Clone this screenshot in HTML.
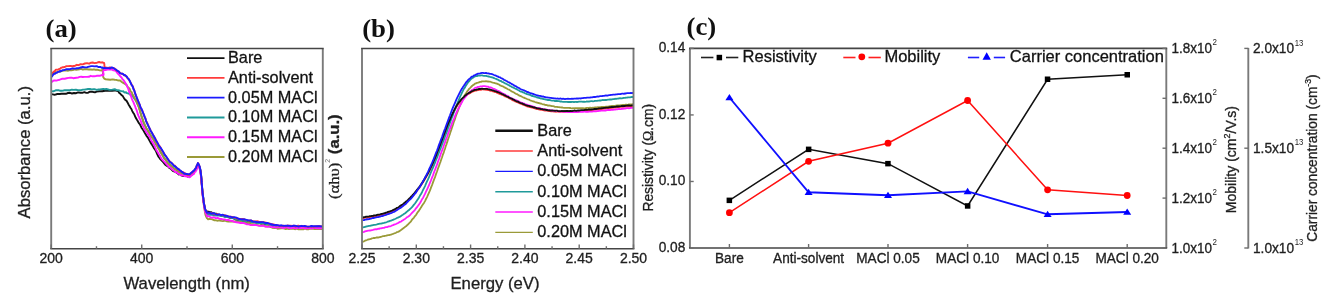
<!DOCTYPE html>
<html><head><meta charset="utf-8"><style>
html,body{margin:0;padding:0;background:#fff;width:1331px;height:304px;overflow:hidden}
svg{display:block;font-family:"Liberation Sans",sans-serif;filter:blur(0.35px)}
text{stroke:#1a1a1a;stroke-width:0.3px;paint-order:stroke}
</style></head><body>
<svg width="1331" height="304" viewBox="0 0 1331 304">
<rect width="1331" height="304" fill="#fff"/>
<defs><clipPath id="ca"><rect x="51" y="48" width="271" height="200"/></clipPath><clipPath id="cb"><rect x="362" y="48" width="272" height="200"/></clipPath></defs>
<g clip-path="url(#ca)"><path d="M51.5 94.1 L54.0 94.7 L55.7 94.5 L57.5 93.9 L59.6 94.0 L61.6 93.8 L63.8 93.8 L65.9 93.8 L68.0 93.0 L70.0 92.8 L72.0 93.5 L74.0 93.0 L76.1 93.2 L78.1 92.4 L80.2 92.7 L82.3 92.8 L84.3 92.2 L86.3 92.9 L88.1 92.7 L90.0 91.7 L91.7 91.6 L93.4 92.0 L95.0 92.3 L96.6 91.6 L99.5 91.3 L102.3 91.3 L105.0 90.7 L107.5 90.8 L110.0 90.9 L112.2 90.8 L114.2 90.6 L115.8 90.6 L116.9 90.7 L117.5 91.1 L117.9 91.2 L118.4 91.3 L119.1 92.8 L120.2 93.6 L121.4 95.0 L122.8 96.1 L124.1 98.4 L125.3 99.9 L126.4 100.6 L127.5 102.4 L128.5 104.4 L129.5 106.0 L130.5 107.8 L131.4 109.0 L132.3 111.1 L133.2 112.7 L134.1 114.0 L135.0 116.1 L135.9 118.1 L136.8 119.6 L137.7 121.0 L138.7 122.9 L140.0 124.5 L140.8 126.1 L141.6 128.0 L142.6 129.2 L143.5 130.5 L144.6 132.5 L145.6 134.3 L146.5 135.8 L147.5 137.1 L148.4 138.6 L149.2 140.0 L150.6 142.6 L151.8 144.4 L152.8 146.1 L153.9 148.1 L155.0 149.5 L156.2 151.6 L157.3 154.4 L158.5 156.7 L159.7 158.3 L161.0 159.9 L162.4 161.2 L163.8 162.9 L165.2 164.7 L166.6 165.6 L168.0 166.5 L169.3 168.0 L170.5 168.4 L171.6 169.6 L172.8 170.9 L174.0 171.4 L175.2 172.0 L176.5 172.6 L177.7 173.5 L178.9 174.5 L180.0 174.0 L180.9 175.2 L181.8 175.5 L182.5 175.8 L183.3 175.9 L184.0 176.1 L184.8 176.0 L185.5 176.1 L186.3 176.1 L187.0 175.8 L187.7 176.6 L188.4 176.2 L189.1 175.7 L189.7 175.9 L190.4 175.6 L191.0 175.2 L191.6 174.7 L192.2 174.4 L192.9 173.9 L193.4 173.3 L194.0 172.5 L194.5 171.3 L195.1 170.6 L195.6 169.7 L196.1 169.2 L196.5 168.7 L196.9 167.7 L197.2 166.7 L197.5 165.8 L197.8 164.7 L198.2 165.3 L198.7 165.8 L199.2 166.4 L199.7 167.9 L200.2 169.9 L200.7 173.3 L200.9 174.5 L201.1 176.0 L201.3 178.6 L201.5 180.5 L201.6 181.7 L201.7 183.3 L201.9 185.2 L202.0 187.1 L202.2 189.4 L202.4 191.8 L202.6 193.5 L202.8 195.0 L203.0 196.8 L203.2 197.8 L203.4 199.7 L203.8 202.5 L204.2 204.7 L204.6 206.6 L204.9 208.9 L205.2 209.6 L205.5 210.1 L205.9 211.1 L206.4 211.8 L207.1 211.4 L207.9 211.6 L208.8 211.8 L209.8 212.4 L210.9 212.1 L212.1 212.9 L213.5 213.3 L214.9 213.6 L216.4 213.7 L217.8 214.9 L219.0 215.0 L219.9 215.0 L221.0 215.1 L222.5 215.9 L224.7 216.2 L226.3 216.8 L227.8 216.9 L229.7 217.7 L231.7 217.6 L233.8 218.4 L235.9 219.6 L238.1 220.0 L240.3 219.9 L242.4 220.9 L244.5 220.8 L246.6 221.8 L248.7 222.0 L250.9 221.9 L253.0 222.1 L255.2 222.1 L257.3 223.3 L259.4 222.7 L261.4 223.8 L263.2 224.2 L265.0 224.1 L267.9 224.2 L270.1 225.5 L272.2 226.1 L274.5 226.3 L276.0 226.3 L277.5 226.4 L279.4 226.5 L281.4 226.5 L283.6 227.0 L285.8 226.9 L287.4 226.7 L289.0 226.7 L290.6 227.3 L292.2 226.9 L293.8 227.2 L295.4 227.0 L296.9 227.6 L298.5 227.7 L300.0 226.8 L301.6 227.0 L303.2 227.2 L304.8 227.9 L306.5 227.7 L308.2 227.3 L309.9 227.2 L311.5 227.7 L313.2 227.8 L314.8 228.0 L316.9 227.4 L319.0 227.9 L322.0 227.6" stroke="#111" stroke-width="1.9" fill="none" stroke-linejoin="round"/>
<path d="M51.5 91.4 L53.3 91.3 L55.7 90.3 L58.6 90.2 L60.2 90.8 L61.8 90.7 L63.4 90.5 L65.0 90.1 L66.7 90.3 L68.3 90.3 L70.1 90.2 L71.9 89.7 L73.8 89.9 L75.7 89.7 L77.5 90.0 L79.4 90.2 L81.2 90.1 L83.0 89.6 L84.8 89.5 L86.5 89.3 L88.2 89.0 L90.0 89.0 L91.7 89.4 L93.4 89.3 L95.1 89.3 L96.8 89.8 L98.4 89.4 L100.0 89.5 L101.6 89.1 L103.2 88.9 L104.8 89.2 L106.4 89.0 L108.0 89.4 L109.5 89.9 L112.3 89.6 L114.7 89.2 L116.6 90.1 L118.0 90.2 L119.2 90.4 L120.2 90.9 L121.3 91.1 L122.4 91.4 L123.4 91.3 L124.3 92.3 L125.1 92.6 L126.0 92.2 L126.8 93.1 L127.6 93.3 L128.4 93.4 L129.2 93.8 L129.9 94.2 L130.6 95.0 L131.3 95.0 L131.9 95.8 L132.6 95.9 L133.4 97.4 L134.2 98.5 L135.1 99.2 L136.0 100.8 L136.9 103.0 L138.0 105.2 L138.6 106.6 L139.2 108.0 L139.8 110.2 L140.4 112.6 L140.9 113.5 L141.3 115.7 L141.7 116.6 L142.2 118.6 L142.7 119.5 L143.2 121.6 L143.9 123.3 L144.7 125.0 L145.6 126.7 L146.4 128.6 L147.4 130.1 L148.3 131.4 L149.3 132.8 L150.3 134.6 L151.2 136.4 L152.2 137.5 L153.0 138.3 L153.8 140.3 L155.2 142.5 L156.3 144.8 L157.4 145.9 L158.4 148.3 L159.5 149.6 L160.7 152.2 L161.9 153.9 L163.0 156.0 L164.3 158.6 L165.5 159.6 L166.8 161.6 L168.1 163.3 L169.4 164.0 L170.7 165.1 L172.0 166.9 L173.2 167.5 L174.5 168.7 L175.7 169.0 L176.9 170.1 L178.0 170.7 L179.1 171.9 L180.1 171.9 L181.1 173.3 L182.0 172.9 L183.0 174.0 L184.0 173.7 L185.0 174.2 L185.9 175.1 L186.9 174.6 L187.7 174.7 L188.5 175.2 L189.1 174.8 L189.8 174.3 L190.4 175.0 L191.0 173.9 L191.6 173.3 L192.2 173.2 L192.9 172.9 L193.4 172.4 L194.0 171.1 L194.5 170.6 L195.1 169.5 L195.6 169.1 L196.1 168.6 L196.5 167.7 L196.9 167.0 L197.2 165.8 L197.5 164.9 L197.8 164.1 L198.2 164.0 L198.7 164.4 L199.2 166.0 L199.7 167.3 L200.2 169.2 L200.7 172.2 L200.9 174.4 L201.1 175.4 L201.3 178.0 L201.5 180.0 L201.6 181.6 L201.7 182.8 L201.9 185.2 L202.0 186.0 L202.1 187.8 L202.2 189.2 L202.4 190.7 L202.6 193.3 L202.8 194.6 L203.0 196.2 L203.2 197.8 L203.4 199.5 L203.8 202.3 L204.2 205.5 L204.6 207.5 L205.0 209.7 L205.3 210.9 L205.6 211.9 L206.0 211.8 L206.4 212.7 L206.7 213.1 L206.8 213.8 L207.0 214.1 L207.6 214.5 L209.0 214.7 L211.2 214.6 L214.1 215.2 L215.8 215.5 L217.5 215.2 L219.3 215.5 L221.1 216.1 L222.9 216.1 L224.7 217.0 L226.5 216.9 L228.4 217.2 L230.3 217.7 L232.3 218.2 L234.3 218.7 L236.3 219.5 L238.4 219.9 L240.4 220.2 L242.5 220.9 L244.5 220.9 L246.6 221.9 L248.7 222.3 L250.9 222.4 L253.0 222.4 L255.2 222.7 L257.3 223.1 L259.4 222.8 L261.4 223.4 L263.2 223.8 L265.0 223.7 L267.9 224.2 L270.1 225.4 L272.2 225.6 L274.5 226.2 L276.0 226.8 L277.5 226.7 L279.4 226.5 L281.4 227.4 L283.6 226.8 L285.8 226.6 L287.4 227.3 L289.0 226.7 L290.6 227.0 L292.2 227.5 L293.8 227.4 L295.4 226.7 L296.9 227.2 L298.5 227.2 L300.0 227.3 L301.6 227.0 L303.2 227.4 L304.8 226.9 L306.5 227.2 L308.2 227.3 L309.9 227.9 L311.5 227.0 L313.2 227.7 L314.8 227.2 L316.9 227.5 L319.0 227.4 L322.0 227.5" stroke="#1f9a9a" stroke-width="1.9" fill="none" stroke-linejoin="round"/>
<path d="M51.5 74.7 L52.0 74.7 L52.6 74.1 L53.3 73.8 L54.1 73.3 L55.0 72.4 L55.9 72.0 L56.9 72.5 L57.9 71.6 L59.0 71.4 L60.0 71.9 L60.7 71.2 L61.1 71.4 L61.6 70.9 L62.7 70.9 L64.8 70.3 L66.5 70.6 L68.2 70.7 L69.8 70.2 L71.3 70.3 L72.8 70.1 L74.5 69.4 L76.2 69.9 L77.8 69.6 L79.5 69.3 L81.1 68.9 L82.8 69.6 L84.9 69.1 L87.0 69.3 L88.8 69.5 L90.6 69.4 L92.3 69.7 L94.0 69.3 L95.6 69.8 L97.1 69.6 L99.7 70.4 L101.6 70.5 L102.7 69.6 L103.0 69.4 L102.9 69.2 L102.8 70.0 L102.8 70.0 L102.9 71.5 L102.9 73.1 L103.0 75.4 L103.3 77.2 L104.2 78.6 L105.8 79.4 L107.9 79.5 L110.3 79.7 L112.7 79.4 L114.7 79.7 L116.3 79.9 L117.7 80.4 L118.9 80.5 L120.1 80.4 L121.3 81.7 L122.5 82.4 L123.6 83.1 L124.6 83.6 L125.7 84.6 L126.6 85.0 L127.5 86.6 L128.3 87.4 L129.1 88.1 L129.8 89.0 L130.5 90.9 L131.1 92.0 L131.7 92.1 L132.2 93.8 L132.7 94.6 L133.4 95.7 L134.2 97.2 L135.0 99.1 L135.9 100.8 L136.9 102.0 L138.0 105.1 L138.6 106.2 L139.2 108.6 L139.8 110.2 L140.4 112.8 L140.9 114.4 L141.3 115.4 L141.7 117.3 L142.2 118.1 L142.7 119.3 L143.2 121.2 L143.9 122.6 L144.7 124.7 L145.6 126.6 L146.4 128.5 L147.4 129.7 L148.3 131.1 L149.3 133.5 L150.3 134.4 L151.2 136.5 L152.2 137.8 L153.0 138.6 L153.8 140.0 L155.2 142.3 L156.3 144.5 L157.4 146.3 L158.4 148.1 L159.5 150.1 L160.7 152.5 L161.9 154.2 L163.0 156.1 L164.3 158.4 L165.5 159.7 L166.8 161.4 L168.1 163.6 L169.4 164.5 L170.7 165.9 L172.0 166.5 L173.2 168.0 L174.5 169.1 L175.7 169.5 L176.9 170.9 L178.0 171.6 L179.1 171.8 L180.1 172.9 L181.1 173.3 L182.0 174.0 L183.0 174.2 L184.0 174.9 L185.0 175.2 L185.9 174.8 L186.9 175.0 L187.7 175.7 L188.5 176.0 L189.1 175.2 L189.8 175.2 L190.4 175.1 L191.0 174.5 L191.6 174.2 L192.2 173.6 L192.9 173.1 L193.4 172.7 L194.0 171.8 L194.5 171.2 L195.1 170.7 L195.6 169.2 L196.1 168.9 L196.5 168.2 L196.9 166.9 L197.2 165.7 L197.5 165.3 L197.8 164.2 L198.2 164.2 L198.7 165.2 L199.2 166.6 L199.7 167.7 L200.2 170.1 L200.7 172.8 L200.9 175.1 L201.1 176.4 L201.3 179.0 L201.5 180.4 L201.6 182.1 L201.7 184.0 L201.9 185.7 L202.0 186.8 L202.1 188.1 L202.2 189.5 L202.4 192.0 L202.6 193.7 L202.8 196.1 L203.0 198.0 L203.2 199.1 L203.4 201.0 L203.6 203.2 L203.8 204.6 L204.2 207.8 L204.6 209.8 L204.9 211.6 L205.2 213.4 L205.5 215.1 L205.8 215.6 L206.2 216.6 L206.6 217.5 L206.8 218.0 L207.2 218.4 L208.1 219.3 L209.5 218.9 L211.7 219.1 L214.5 220.3 L216.1 220.4 L217.7 220.7 L219.4 220.3 L221.2 220.9 L222.9 221.1 L224.7 220.5 L226.5 221.2 L228.4 221.5 L230.3 221.5 L232.3 221.5 L234.3 221.5 L236.3 221.7 L238.4 221.8 L240.4 221.9 L242.5 222.6 L244.5 222.6 L246.6 223.4 L248.7 222.9 L250.9 224.1 L253.0 224.2 L255.2 224.8 L257.3 225.1 L259.4 225.5 L261.4 225.5 L263.2 225.2 L265.0 226.2 L267.9 226.2 L270.1 226.9 L272.2 227.7 L274.5 228.0 L276.0 228.0 L277.5 228.7 L279.4 228.5 L281.4 228.4 L283.6 228.4 L285.8 229.1 L287.4 228.7 L289.0 229.1 L290.6 228.7 L292.2 228.6 L293.8 228.9 L295.4 229.2 L296.9 228.6 L298.5 229.3 L300.0 229.4 L301.6 229.3 L303.2 229.4 L304.8 228.6 L306.5 229.2 L308.2 229.4 L309.9 228.6 L311.5 228.8 L313.2 228.8 L314.8 229.1 L316.9 228.9 L319.0 229.0 L322.0 229.0" stroke="#9a9a38" stroke-width="1.9" fill="none" stroke-linejoin="round"/>
<path d="M51.5 82.1 L51.9 81.7 L52.3 81.7 L53.0 81.0 L53.8 80.5 L55.0 80.4 L56.4 80.6 L57.9 80.1 L59.7 79.7 L61.9 78.8 L64.8 78.7 L66.7 78.3 L68.6 77.9 L70.1 77.7 L71.6 77.7 L73.1 78.2 L74.8 78.0 L76.4 77.8 L78.0 77.6 L79.6 76.9 L81.2 76.8 L82.8 77.0 L84.9 76.9 L87.0 76.9 L88.9 76.8 L90.7 75.8 L92.5 76.3 L94.3 76.3 L95.9 76.0 L97.5 75.6 L100.2 75.7 L102.2 75.0 L103.3 75.3 L103.6 74.5 L103.5 73.4 L103.2 72.4 L103.2 72.4 L103.3 71.6 L103.2 71.4 L103.2 71.0 L103.5 70.3 L104.2 70.0 L105.6 70.0 L107.4 69.6 L109.5 69.2 L111.6 69.5 L113.4 70.4 L114.9 70.5 L116.4 71.6 L117.7 73.5 L118.9 74.6 L120.0 76.0 L121.0 77.0 L121.8 77.9 L122.6 79.5 L123.3 79.6 L124.0 80.9 L124.7 81.8 L125.5 83.4 L126.2 84.2 L126.8 85.5 L127.5 87.2 L128.1 88.3 L128.6 90.0 L129.2 92.0 L129.8 92.8 L130.4 94.6 L131.1 96.4 L131.8 98.6 L132.5 100.3 L133.4 102.1 L134.5 104.8 L135.2 106.4 L135.8 108.4 L136.6 110.0 L137.4 112.7 L137.9 114.4 L138.5 115.9 L139.1 117.1 L139.6 118.8 L140.2 119.3 L140.8 120.9 L141.6 123.5 L142.5 125.3 L143.4 126.6 L144.2 128.8 L145.2 130.1 L146.1 131.9 L147.0 132.9 L147.9 134.3 L148.8 135.9 L149.7 137.0 L150.4 138.6 L151.2 140.5 L152.5 142.2 L153.5 143.9 L154.5 145.8 L155.4 147.7 L156.5 150.3 L157.6 151.9 L158.8 153.9 L160.0 155.8 L161.3 158.7 L162.5 159.9 L163.8 161.3 L165.1 162.7 L166.4 164.1 L167.7 165.5 L169.0 167.2 L170.2 167.7 L171.4 168.6 L172.6 169.9 L173.8 170.5 L175.0 172.0 L176.2 171.9 L177.4 173.0 L178.5 173.9 L179.8 174.1 L181.0 175.3 L182.3 175.3 L183.8 175.6 L185.2 176.3 L186.6 176.3 L187.7 176.9 L188.6 176.8 L189.3 177.4 L189.9 177.2 L190.4 176.6 L191.0 175.8 L191.6 175.6 L192.2 175.1 L192.9 174.5 L193.4 173.9 L194.0 173.9 L194.5 172.4 L195.1 171.5 L195.6 171.5 L196.1 170.4 L196.5 170.0 L196.9 168.5 L197.2 167.9 L197.6 166.7 L197.9 166.2 L198.3 166.2 L198.7 166.7 L199.2 167.3 L199.7 169.0 L200.2 171.8 L200.7 174.4 L200.9 176.2 L201.1 177.3 L201.3 179.8 L201.5 182.1 L201.6 183.5 L201.7 185.2 L201.9 186.5 L202.0 188.2 L202.1 189.7 L202.2 190.8 L202.4 193.4 L202.6 195.5 L202.8 196.3 L203.0 198.9 L203.2 200.4 L203.4 201.7 L203.8 203.9 L204.2 207.3 L204.6 208.6 L205.0 211.2 L205.3 212.1 L205.6 212.5 L206.0 213.4 L206.4 214.6 L206.7 215.2 L206.8 215.9 L207.0 216.4 L207.6 216.1 L209.0 216.3 L211.2 217.7 L214.1 217.2 L215.8 218.3 L217.5 217.8 L219.3 218.7 L221.1 219.0 L222.9 219.4 L224.7 219.4 L226.5 220.1 L228.4 219.8 L230.3 220.8 L232.3 220.9 L234.3 221.9 L236.3 222.3 L238.4 222.5 L240.4 223.0 L242.5 222.9 L244.5 223.3 L246.6 224.2 L248.7 224.4 L250.9 225.1 L253.0 225.1 L255.2 224.8 L257.3 225.3 L259.4 225.9 L261.4 225.8 L263.2 225.5 L265.0 226.5 L267.9 226.9 L270.1 226.4 L272.2 227.1 L274.5 227.2 L276.0 227.7 L277.5 227.3 L279.4 227.3 L281.4 227.6 L283.6 228.2 L285.8 227.4 L287.4 227.4 L289.0 228.0 L290.6 228.2 L292.2 227.9 L293.8 227.8 L295.4 228.3 L296.9 228.2 L298.5 227.5 L300.0 228.4 L301.6 227.7 L303.2 227.8 L304.8 228.4 L306.5 228.0 L308.2 228.4 L309.9 227.8 L311.5 228.5 L313.2 227.8 L314.8 227.8 L316.9 228.2 L319.0 228.0 L322.0 228.2" stroke="#ff1aff" stroke-width="1.9" fill="none" stroke-linejoin="round"/>
<path d="M51.5 73.6 L52.0 73.3 L52.6 72.8 L53.3 72.2 L54.1 71.3 L55.0 70.9 L55.9 69.6 L56.9 69.6 L57.9 69.7 L59.0 69.0 L60.0 68.9 L60.9 67.8 L61.7 67.8 L62.5 67.3 L63.5 67.3 L64.8 67.0 L66.4 66.1 L68.1 66.1 L70.1 65.9 L72.5 66.2 L75.2 65.7 L76.9 64.8 L78.6 65.2 L80.7 64.2 L82.7 64.4 L84.9 63.5 L87.0 63.1 L89.1 63.7 L91.1 62.7 L92.7 62.5 L94.4 63.1 L97.0 62.7 L99.1 62.0 L100.9 62.6 L102.3 62.3 L103.4 62.8 L104.1 62.9 L104.4 64.6 L104.4 65.3 L104.4 66.6 L104.5 67.2 L104.6 67.0 L104.6 67.4 L104.6 67.3 L104.9 67.4 L105.5 67.5 L106.7 67.7 L108.2 68.0 L110.0 67.3 L111.8 68.1 L113.4 68.0 L114.8 68.7 L116.1 70.1 L117.4 70.8 L118.7 71.7 L120.0 72.8 L121.3 73.8 L122.7 73.8 L124.1 75.3 L125.4 75.2 L126.6 76.9 L127.7 78.4 L128.8 79.1 L129.9 81.6 L130.9 83.0 L131.8 85.1 L132.7 86.4 L133.5 88.4 L134.3 90.6 L135.0 93.4 L135.8 94.7 L136.6 97.3 L137.3 99.4 L138.1 101.4 L138.9 102.8 L139.7 104.9 L140.5 107.0 L141.4 109.3 L142.3 110.6 L143.2 113.2 L144.0 115.3 L144.8 117.3 L145.4 118.3 L146.1 121.1 L147.0 122.3 L148.0 124.8 L148.7 126.5 L149.3 128.2 L150.1 129.2 L150.9 131.3 L151.8 132.5 L152.6 133.9 L153.5 135.5 L154.3 136.9 L155.0 138.2 L155.8 139.6 L157.1 142.5 L158.3 144.9 L159.4 145.9 L160.6 147.6 L161.8 150.5 L163.1 152.1 L164.4 154.1 L165.8 156.0 L167.2 158.3 L168.5 160.3 L169.8 161.5 L171.2 162.8 L172.5 163.7 L173.8 165.6 L175.0 165.8 L176.1 167.3 L177.2 168.6 L178.1 168.7 L179.1 170.0 L180.0 170.9 L180.9 171.3 L181.7 172.0 L182.5 171.8 L183.2 172.5 L184.0 172.6 L184.8 173.7 L185.5 173.5 L186.3 174.0 L187.0 174.7 L187.7 174.7 L188.4 174.8 L189.1 174.1 L189.7 173.9 L190.4 173.9 L191.0 173.3 L191.6 172.7 L192.2 172.3 L192.9 171.4 L193.4 171.0 L194.0 171.0 L194.5 170.2 L195.1 169.1 L195.6 168.1 L196.1 167.1 L196.5 166.1 L196.9 165.4 L197.2 164.9 L197.6 164.1 L197.9 163.0 L198.3 163.6 L198.7 164.3 L199.2 165.5 L199.7 167.1 L200.2 169.4 L200.7 171.7 L200.9 173.7 L201.1 175.1 L201.3 177.4 L201.5 179.8 L201.6 181.3 L201.7 182.4 L201.9 184.6 L202.0 185.8 L202.1 187.3 L202.2 188.2 L202.4 190.7 L202.6 192.4 L202.8 194.5 L203.0 195.9 L203.2 197.8 L203.4 199.2 L203.8 202.2 L204.2 204.2 L204.6 206.6 L205.0 208.4 L205.3 209.6 L205.6 210.0 L206.0 211.2 L206.4 211.9 L206.7 212.2 L206.8 212.7 L207.0 212.9 L207.6 212.6 L209.0 212.9 L211.2 213.0 L214.1 214.1 L215.8 214.4 L217.5 214.2 L219.3 214.7 L221.1 215.0 L222.9 215.3 L224.7 215.1 L226.5 216.1 L228.4 216.3 L230.3 216.8 L232.3 217.0 L234.3 217.7 L236.3 218.3 L238.4 218.7 L240.4 219.2 L242.5 218.9 L244.5 219.5 L246.6 220.1 L248.7 220.6 L250.9 220.5 L253.0 221.3 L255.2 221.5 L257.3 221.2 L259.4 221.9 L261.4 222.0 L263.2 222.1 L265.0 222.4 L267.9 223.2 L270.1 223.7 L272.2 224.3 L274.5 224.6 L276.0 225.3 L277.5 225.4 L279.4 225.7 L281.4 225.9 L283.6 225.6 L285.8 226.4 L287.4 225.5 L289.0 225.9 L290.6 225.8 L292.2 226.0 L293.8 225.7 L295.4 226.5 L296.9 226.0 L298.5 225.7 L300.0 226.3 L301.6 225.8 L303.2 226.3 L304.8 226.1 L306.5 226.4 L308.2 226.8 L309.9 226.6 L311.5 226.3 L313.2 226.7 L314.8 226.5 L316.9 226.2 L319.0 226.0 L322.0 226.4" stroke="#ff3b3b" stroke-width="1.9" fill="none" stroke-linejoin="round"/>
<path d="M51.5 76.8 L52.0 76.4 L52.6 75.5 L53.3 74.6 L54.1 73.6 L55.0 73.7 L55.9 73.0 L56.9 72.7 L57.9 71.9 L59.0 71.9 L60.0 71.0 L60.9 71.2 L61.7 70.8 L62.5 70.2 L63.5 70.1 L64.8 70.0 L66.4 69.2 L68.1 69.3 L70.1 69.2 L72.5 68.4 L75.2 68.6 L76.9 68.3 L78.7 68.2 L80.7 67.5 L82.8 67.0 L85.0 67.4 L87.2 67.2 L89.2 66.6 L91.2 66.1 L92.8 66.1 L94.4 66.4 L96.7 66.1 L98.3 67.0 L99.5 67.0 L100.6 67.0 L101.6 67.7 L102.5 67.5 L103.2 68.2 L103.8 68.2 L104.5 67.9 L105.5 68.0 L106.8 68.1 L108.4 68.1 L110.1 68.3 L111.8 67.4 L113.4 68.1 L114.8 69.0 L116.1 69.6 L117.4 70.9 L118.7 71.4 L120.0 73.2 L121.3 73.6 L122.7 73.8 L124.1 75.0 L125.4 75.5 L126.6 76.4 L127.7 78.0 L128.8 79.3 L129.9 81.1 L130.9 83.5 L131.8 85.2 L132.7 86.4 L133.5 89.2 L134.3 90.4 L135.0 92.8 L135.8 95.4 L136.6 97.1 L137.3 98.8 L138.1 100.9 L138.9 102.9 L139.7 104.6 L140.5 107.5 L141.4 108.6 L142.3 110.9 L143.2 113.2 L144.0 114.9 L144.8 117.4 L145.4 118.5 L146.1 121.1 L147.0 123.1 L148.0 125.2 L148.7 126.8 L149.3 127.7 L150.1 129.7 L150.9 131.2 L151.8 132.5 L152.6 134.1 L153.5 135.9 L154.3 137.1 L155.0 138.2 L155.8 140.2 L157.1 142.1 L158.3 144.3 L159.4 146.5 L160.6 147.8 L161.8 149.5 L163.1 151.7 L164.4 154.3 L165.8 156.1 L167.2 158.0 L168.5 160.0 L169.8 162.0 L171.2 162.6 L172.5 164.0 L173.8 165.6 L175.0 166.4 L176.1 167.1 L177.2 168.2 L178.1 169.0 L179.1 169.4 L180.0 170.4 L180.9 170.9 L181.7 172.0 L182.5 172.0 L183.2 172.8 L184.0 173.5 L184.8 173.8 L185.5 173.6 L186.3 174.1 L187.0 174.0 L187.7 174.2 L188.4 174.3 L189.1 174.4 L189.7 174.4 L190.4 173.4 L191.0 172.8 L191.6 172.8 L192.2 171.9 L192.9 171.3 L193.4 171.4 L194.0 170.1 L194.5 170.0 L195.1 168.8 L195.6 168.5 L196.1 167.6 L196.5 166.1 L196.9 165.3 L197.2 165.0 L197.6 163.8 L197.9 163.1 L198.3 163.6 L198.7 164.4 L199.2 165.3 L199.7 166.9 L200.2 168.7 L200.7 171.7 L200.9 173.2 L201.1 175.4 L201.3 177.5 L201.5 179.2 L201.6 181.2 L201.7 182.2 L201.9 183.8 L202.0 185.8 L202.1 187.1 L202.2 189.1 L202.4 190.8 L202.6 192.8 L202.8 193.9 L203.0 196.3 L203.2 197.1 L203.4 199.2 L203.8 202.3 L204.2 204.8 L204.6 206.9 L205.0 208.1 L205.3 209.5 L205.6 210.5 L206.0 210.5 L206.4 211.9 L206.7 212.4 L206.8 212.2 L207.0 212.7 L207.6 212.6 L209.0 212.7 L211.2 213.5 L214.1 213.3 L215.8 214.3 L217.5 214.7 L219.3 214.3 L221.1 215.2 L222.9 214.7 L224.7 215.8 L226.5 215.6 L228.4 216.6 L230.3 216.6 L232.3 217.5 L234.3 217.1 L236.3 217.6 L238.4 218.8 L240.4 219.1 L242.5 219.4 L244.5 219.3 L246.6 219.8 L248.7 220.4 L250.9 220.4 L253.0 221.6 L255.2 221.7 L257.3 222.1 L259.4 222.2 L261.4 222.1 L263.2 222.1 L265.0 223.0 L267.9 223.0 L270.1 224.0 L272.2 224.5 L274.5 225.1 L276.0 224.9 L277.5 225.1 L279.4 225.7 L281.4 225.3 L283.6 225.9 L285.8 225.6 L287.4 225.8 L289.0 225.7 L290.6 226.1 L292.2 226.0 L293.8 225.8 L295.4 225.8 L296.9 226.2 L298.5 226.6 L300.0 226.1 L301.6 225.9 L303.2 226.1 L304.8 226.0 L306.5 226.4 L308.2 226.6 L309.9 226.4 L311.5 226.0 L313.2 226.2 L314.8 226.2 L316.9 226.3 L319.0 226.3 L322.0 226.4" stroke="#1a1aff" stroke-width="1.9" fill="none" stroke-linejoin="round"/>
</g>
<line x1="51.20" y1="48.50" x2="51.20" y2="248.70" stroke="#7a7a7a" stroke-width="1.9"/><line x1="322.80" y1="48.50" x2="322.80" y2="248.70" stroke="#7a7a7a" stroke-width="1.9"/><line x1="50.30" y1="48.50" x2="323.70" y2="48.50" stroke="#454545" stroke-width="1.6"/><line x1="50.30" y1="248.70" x2="323.70" y2="248.70" stroke="#454545" stroke-width="1.6"/>
<line x1="51.20" y1="248.70" x2="51.20" y2="244.50" stroke="#6e6e6e" stroke-width="1.4"/>
<text transform="translate(51.2,263.0) scale(1,1.06)" font-size="14.0" text-anchor="middle" fill="#1e1e1e">200</text>
<line x1="96.47" y1="248.70" x2="96.47" y2="246.20" stroke="#6e6e6e" stroke-width="1.4"/>
<line x1="141.73" y1="248.70" x2="141.73" y2="244.50" stroke="#6e6e6e" stroke-width="1.4"/>
<text transform="translate(141.7,263.0) scale(1,1.06)" font-size="14.0" text-anchor="middle" fill="#1e1e1e">400</text>
<line x1="187.00" y1="248.70" x2="187.00" y2="246.20" stroke="#6e6e6e" stroke-width="1.4"/>
<line x1="232.27" y1="248.70" x2="232.27" y2="244.50" stroke="#6e6e6e" stroke-width="1.4"/>
<text transform="translate(232.3,263.0) scale(1,1.06)" font-size="14.0" text-anchor="middle" fill="#1e1e1e">600</text>
<line x1="277.53" y1="248.70" x2="277.53" y2="246.20" stroke="#6e6e6e" stroke-width="1.4"/>
<line x1="322.80" y1="248.70" x2="322.80" y2="244.50" stroke="#6e6e6e" stroke-width="1.4"/>
<text transform="translate(322.8,263.0) scale(1,1.06)" font-size="14.0" text-anchor="middle" fill="#1e1e1e">800</text>
<text x="186.7" y="289" font-size="16.7" text-anchor="middle" fill="#1e1e1e">Wavelength (nm)</text>
<text transform="translate(30.00,152.25) rotate(-90) scale(1.000,1)" font-size="16.67" text-anchor="middle" fill="#1e1e1e">Absorbance (a.u.)</text>
<text transform="translate(45.5,36.5) scale(1.05,1)" font-family="Liberation Serif" font-weight="bold" font-size="25.5" fill="#111" style="stroke:none">(a)</text>
<line x1="187" y1="58.20" x2="224.5" y2="58.20" stroke="#111" stroke-width="1.8"/>
<text x="228" y="63.00" font-size="16.3" fill="#111">Bare</text>
<line x1="187" y1="77.96" x2="224.5" y2="77.96" stroke="#ff3b3b" stroke-width="1.8"/>
<text x="228" y="82.76" font-size="16.3" fill="#111">Anti-solvent</text>
<line x1="187" y1="97.72" x2="224.5" y2="97.72" stroke="#1a1aff" stroke-width="1.8"/>
<text x="228" y="102.52" font-size="16.3" fill="#111">0.05M MACl</text>
<line x1="187" y1="117.48" x2="224.5" y2="117.48" stroke="#1f9a9a" stroke-width="1.8"/>
<text x="228" y="122.28" font-size="16.3" fill="#111">0.10M MACl</text>
<line x1="187" y1="137.24" x2="224.5" y2="137.24" stroke="#ff1aff" stroke-width="1.8"/>
<text x="228" y="142.04" font-size="16.3" fill="#111">0.15M MACl</text>
<line x1="187" y1="157.00" x2="224.5" y2="157.00" stroke="#9a9a38" stroke-width="1.8"/>
<text x="228" y="161.80" font-size="16.3" fill="#111">0.20M MACl</text>
<g clip-path="url(#cb)"><path d="M362.0 218.3 L363.0 218.1 L364.0 218.0 L365.0 217.7 L366.0 217.7 L367.0 217.6 L368.0 217.4 L369.0 217.0 L370.0 217.0 L371.0 216.8 L372.0 216.6 L373.0 216.7 L374.0 216.5 L375.0 216.0 L376.0 216.1 L377.0 215.8 L378.0 215.5 L379.0 215.3 L380.0 215.2 L381.0 214.9 L382.0 214.8 L383.0 214.5 L384.0 214.0 L385.0 214.0 L386.0 213.7 L387.0 213.4 L388.0 212.9 L389.0 212.3 L390.0 211.9 L391.0 211.6 L392.0 211.5 L393.0 210.8 L394.0 210.3 L395.0 210.0 L396.0 209.3 L397.0 208.8 L398.0 208.2 L399.0 207.4 L400.0 207.0 L401.0 206.4 L402.0 205.5 L403.0 204.8 L404.0 204.1 L405.0 203.1 L406.0 202.5 L407.0 201.7 L408.0 200.7 L409.0 199.7 L410.0 198.9 L411.0 197.6 L412.0 196.7 L413.0 195.5 L414.0 194.4 L415.0 193.1 L416.0 192.1 L417.0 190.6 L418.0 189.3 L419.0 188.2 L420.0 186.9 L421.0 185.2 L422.0 183.7 L423.0 182.2 L424.0 180.6 L425.0 179.1 L426.0 177.2 L427.0 175.4 L428.0 173.7 L429.0 171.7 L430.0 169.9 L431.0 167.9 L432.0 165.8 L433.0 163.4 L434.0 161.0 L435.0 158.6 L436.0 156.0 L437.0 153.8 L438.0 151.0 L439.0 148.4 L440.0 145.7 L441.0 143.1 L442.0 140.5 L443.0 137.8 L444.0 135.3 L445.0 132.6 L446.0 129.8 L447.0 127.4 L448.0 125.0 L449.0 122.4 L450.0 120.1 L451.0 117.6 L452.0 115.5 L453.0 113.4 L454.0 111.4 L455.0 109.5 L456.0 107.7 L457.0 106.1 L458.0 104.5 L459.0 103.0 L460.0 101.8 L461.0 100.8 L462.0 99.5 L463.0 98.3 L464.0 97.3 L465.0 96.6 L466.0 95.6 L467.0 94.8 L468.0 94.1 L469.0 93.6 L470.0 93.2 L471.0 92.4 L472.0 91.9 L473.0 91.5 L474.0 91.1 L475.0 90.7 L476.0 90.5 L477.0 90.3 L478.0 90.0 L479.0 89.8 L480.0 89.7 L481.0 89.8 L482.0 89.4 L483.0 89.4 L484.0 89.6 L485.0 89.7 L486.0 89.8 L487.0 89.9 L488.0 90.2 L489.0 90.2 L490.0 90.6 L491.0 90.9 L492.0 90.9 L493.0 91.4 L494.0 91.7 L495.0 92.1 L496.0 92.1 L497.0 92.8 L498.0 93.2 L499.0 93.7 L500.0 94.1 L501.0 94.3 L502.0 94.9 L503.0 95.1 L504.0 95.8 L505.0 96.4 L506.0 96.6 L507.0 97.1 L508.0 97.5 L509.0 98.1 L510.0 98.6 L511.0 99.0 L512.0 99.9 L513.0 100.3 L514.0 100.7 L515.0 101.3 L516.0 101.7 L517.0 102.1 L518.0 102.5 L519.0 103.1 L520.0 103.5 L521.0 103.8 L522.0 104.2 L523.0 104.7 L524.0 105.1 L525.0 105.3 L526.0 105.9 L527.0 106.3 L528.0 106.6 L529.0 106.9 L530.0 107.0 L531.0 107.4 L532.0 107.5 L533.0 107.8 L534.0 108.2 L535.0 108.5 L536.0 108.9 L537.0 109.0 L538.0 109.1 L539.0 109.5 L540.0 109.6 L541.0 109.8 L542.0 109.9 L543.0 110.1 L544.0 110.3 L545.0 110.6 L546.0 110.6 L547.0 110.7 L548.0 110.9 L549.0 111.0 L550.0 111.2 L551.0 111.3 L552.0 111.4 L553.0 111.4 L554.0 111.6 L555.0 111.7 L556.0 111.8 L557.0 111.7 L558.0 111.5 L559.0 111.9 L560.0 111.9 L561.0 111.6 L562.0 111.7 L563.0 111.8 L564.0 111.9 L565.0 111.9 L566.0 111.7 L567.0 111.7 L568.0 111.7 L569.0 111.6 L570.0 111.9 L571.0 111.9 L572.0 111.6 L573.0 111.7 L574.0 111.8 L575.0 111.4 L576.0 111.5 L577.0 111.4 L578.0 111.5 L579.0 111.4 L580.0 111.0 L581.0 111.0 L582.0 111.2 L583.0 111.0 L584.0 110.9 L585.0 110.9 L586.0 110.8 L587.0 110.8 L588.0 110.4 L589.0 110.2 L590.0 110.4 L591.0 110.0 L592.0 110.1 L593.0 110.1 L594.0 109.8 L595.0 109.8 L596.0 109.5 L597.0 109.4 L598.0 109.5 L599.0 109.5 L600.0 109.4 L601.0 108.9 L602.0 109.1 L603.0 108.9 L604.0 108.7 L605.0 108.6 L606.0 108.5 L607.0 108.3 L608.0 108.2 L609.0 108.3 L610.0 108.2 L611.0 108.0 L612.0 107.9 L613.0 107.9 L614.0 107.5 L615.0 107.7 L616.0 107.6 L617.0 107.3 L618.0 107.3 L619.0 107.1 L620.0 106.9 L621.0 106.9 L622.0 106.7 L623.0 107.0 L624.0 106.6 L625.0 106.7 L626.0 106.6 L627.0 106.7 L628.0 106.6 L629.0 106.3 L630.0 106.3 L631.0 106.1 L632.0 106.1 L633.0 106.1 L634.0 106.2" stroke="#ff3b3b" stroke-width="1.8" fill="none" stroke-linejoin="round"/>
<path d="M362.0 242.0 L363.0 241.6 L364.0 241.3 L365.0 240.7 L366.0 240.3 L367.0 240.0 L368.0 239.5 L369.0 239.3 L370.0 239.1 L371.0 238.9 L372.0 238.3 L373.0 238.2 L374.0 237.9 L375.0 238.0 L376.0 237.7 L377.0 237.3 L378.0 237.5 L379.0 237.3 L380.0 237.0 L381.0 236.8 L382.0 236.5 L383.0 236.2 L384.0 236.2 L385.0 235.8 L386.0 235.7 L387.0 235.5 L388.0 235.2 L389.0 235.1 L390.0 234.8 L391.0 234.7 L392.0 234.2 L393.0 233.9 L394.0 233.5 L395.0 233.2 L396.0 232.7 L397.0 232.1 L398.0 231.9 L399.0 231.4 L400.0 230.7 L401.0 230.1 L402.0 229.3 L403.0 228.5 L404.0 227.8 L405.0 226.9 L406.0 226.3 L407.0 225.3 L408.0 224.5 L409.0 223.3 L410.0 222.4 L411.0 221.3 L412.0 219.7 L413.0 218.6 L414.0 217.6 L415.0 216.1 L416.0 215.0 L417.0 213.3 L418.0 211.8 L419.0 210.6 L420.0 209.1 L421.0 207.4 L422.0 205.8 L423.0 204.3 L424.0 202.9 L425.0 201.1 L426.0 199.0 L427.0 197.1 L428.0 194.9 L429.0 192.6 L430.0 190.4 L431.0 187.6 L432.0 185.1 L433.0 182.4 L434.0 179.6 L435.0 177.1 L436.0 174.1 L437.0 171.5 L438.0 168.5 L439.0 165.9 L439.5 164.4 L440.0 163.0 L440.5 161.8 L441.0 160.3 L441.5 158.7 L442.0 157.5 L442.5 155.8 L443.0 154.4 L443.5 153.1 L444.0 151.6 L444.5 149.9 L445.0 148.8 L445.5 147.0 L446.0 145.5 L446.5 144.3 L447.0 142.6 L447.5 141.1 L448.0 139.5 L448.5 138.0 L449.0 136.7 L449.5 135.1 L450.0 133.7 L450.5 132.1 L451.0 130.6 L451.5 129.3 L452.0 127.6 L452.5 126.2 L453.0 124.8 L453.5 123.0 L454.0 121.5 L454.5 120.4 L455.0 118.9 L455.5 117.2 L456.0 115.8 L457.0 113.2 L458.0 110.6 L459.0 107.7 L460.0 105.5 L461.0 103.1 L462.0 100.7 L463.0 98.6 L464.0 96.5 L465.0 94.7 L466.0 93.4 L467.0 91.6 L468.0 90.4 L469.0 89.0 L470.0 88.1 L471.0 87.0 L472.0 86.0 L473.0 85.1 L474.0 84.6 L475.0 83.7 L476.0 83.3 L477.0 82.9 L478.0 82.7 L479.0 82.3 L480.0 81.9 L481.0 81.9 L482.0 81.4 L483.0 81.3 L484.0 81.3 L485.0 81.3 L486.0 81.2 L487.0 81.3 L488.0 81.5 L489.0 81.7 L490.0 81.7 L491.0 82.0 L492.0 82.4 L493.0 82.7 L494.0 82.9 L495.0 83.2 L496.0 83.5 L497.0 83.7 L498.0 84.1 L499.0 84.5 L500.0 85.3 L501.0 85.7 L502.0 86.2 L503.0 86.4 L504.0 87.1 L505.0 87.6 L506.0 88.2 L507.0 88.6 L508.0 89.4 L509.0 89.6 L510.0 90.3 L511.0 90.9 L512.0 91.6 L513.0 92.0 L514.0 92.6 L515.0 93.2 L516.0 93.8 L517.0 94.1 L518.0 94.7 L519.0 95.4 L520.0 95.8 L521.0 96.2 L522.0 96.8 L523.0 97.3 L524.0 97.6 L525.0 98.1 L526.0 98.5 L527.0 99.0 L528.0 99.4 L529.0 99.6 L530.0 100.2 L531.0 100.7 L532.0 101.0 L533.0 101.3 L534.0 101.5 L535.0 102.0 L536.0 102.3 L537.0 102.5 L538.0 103.0 L539.0 103.0 L540.0 103.6 L541.0 103.5 L542.0 104.0 L543.0 104.3 L544.0 104.4 L545.0 104.8 L546.0 105.0 L547.0 105.2 L548.0 105.6 L549.0 105.5 L550.0 105.6 L551.0 105.9 L552.0 106.2 L553.0 106.2 L554.0 106.4 L555.0 106.8 L556.0 106.9 L557.0 106.9 L558.0 107.2 L559.0 107.1 L560.0 107.4 L561.0 107.3 L562.0 107.5 L563.0 107.7 L564.0 107.8 L565.0 107.9 L566.0 107.8 L567.0 107.9 L568.0 107.9 L569.0 107.9 L570.0 108.0 L571.0 108.2 L572.0 108.3 L573.0 108.2 L574.0 108.4 L575.0 108.1 L576.0 108.1 L577.0 108.2 L578.0 108.1 L579.0 108.1 L580.0 108.2 L581.0 108.2 L582.0 108.2 L583.0 108.1 L584.0 108.3 L585.0 108.3 L586.0 108.0 L587.0 107.8 L588.0 107.8 L589.0 108.1 L590.0 107.7 L591.0 107.9 L592.0 107.8 L593.0 107.6 L594.0 107.8 L595.0 107.4 L596.0 107.4 L597.0 107.4 L598.0 107.2 L599.0 107.4 L600.0 107.1 L601.0 107.0 L602.0 106.8 L603.0 107.0 L604.0 106.8 L605.0 106.8 L606.0 106.7 L607.0 106.7 L608.0 106.7 L609.0 106.5 L610.0 106.2 L611.0 106.2 L612.0 106.0 L613.0 105.8 L614.0 105.9 L615.0 105.9 L616.0 105.6 L617.0 105.5 L618.0 105.4 L619.0 105.5 L620.0 105.3 L621.0 105.2 L622.0 105.2 L623.0 104.9 L624.0 105.0 L625.0 105.0 L626.0 104.5 L627.0 104.8 L628.0 104.6 L629.0 104.3 L630.0 104.3 L631.0 104.3 L632.0 104.3 L633.0 104.0 L634.0 104.0" stroke="#9a9a38" stroke-width="1.8" fill="none" stroke-linejoin="round"/>
<path d="M362.0 232.4 L363.0 232.1 L364.0 231.9 L365.0 231.4 L366.0 231.1 L367.0 231.0 L368.0 230.7 L369.0 230.7 L370.0 230.5 L371.0 230.3 L372.0 230.1 L373.0 229.9 L374.0 229.5 L375.0 229.4 L376.0 229.2 L377.0 229.3 L378.0 228.7 L379.0 228.9 L380.0 228.4 L381.0 228.4 L382.0 228.1 L383.0 227.9 L384.0 227.9 L385.0 227.3 L386.0 227.1 L387.0 227.2 L388.0 226.7 L389.0 226.3 L390.0 226.4 L391.0 226.0 L392.0 225.4 L393.0 225.1 L394.0 224.6 L395.0 224.3 L396.0 224.0 L397.0 223.4 L398.0 223.1 L399.0 222.4 L400.0 221.9 L401.0 221.6 L402.0 220.8 L403.0 220.2 L404.0 219.6 L405.0 218.9 L406.0 218.1 L407.0 217.2 L408.0 216.7 L409.0 216.0 L410.0 215.1 L411.0 214.0 L412.0 212.9 L413.0 211.9 L414.0 210.9 L415.0 209.8 L416.0 208.3 L417.0 207.1 L418.0 205.8 L419.0 204.4 L420.0 203.0 L421.0 201.2 L422.0 199.3 L423.0 197.9 L424.0 195.8 L425.0 193.9 L426.0 191.7 L427.0 189.6 L428.0 187.4 L429.0 185.2 L430.0 182.6 L431.0 180.3 L432.0 177.7 L433.0 175.3 L434.0 172.4 L435.0 169.9 L436.0 167.2 L437.0 164.6 L438.0 161.6 L439.0 159.0 L440.0 156.1 L441.0 153.3 L442.0 150.6 L443.0 148.0 L444.0 145.0 L445.0 142.4 L446.0 139.3 L447.0 136.8 L448.0 133.9 L449.0 131.1 L450.0 128.7 L451.0 126.2 L452.0 123.2 L453.0 120.8 L454.0 118.6 L455.0 116.1 L456.0 113.7 L457.0 111.4 L458.0 109.3 L459.0 107.5 L460.0 105.7 L461.0 103.9 L462.0 102.0 L463.0 100.1 L464.0 98.7 L465.0 97.5 L466.0 96.2 L467.0 94.9 L468.0 93.6 L469.0 92.7 L470.0 91.7 L471.0 90.9 L472.0 90.0 L473.0 89.5 L474.0 88.9 L475.0 88.0 L476.0 87.6 L477.0 87.4 L478.0 86.9 L479.0 86.8 L480.0 86.5 L481.0 86.4 L482.0 86.3 L483.0 86.1 L484.0 86.1 L485.0 86.2 L486.0 86.5 L487.0 86.6 L488.0 86.6 L489.0 87.2 L490.0 87.3 L491.0 87.5 L492.0 88.0 L493.0 88.6 L494.0 88.8 L495.0 89.3 L496.0 89.9 L497.0 90.4 L498.0 90.8 L499.0 91.2 L500.0 91.8 L501.0 92.5 L502.0 93.0 L503.0 93.5 L504.0 93.9 L505.0 94.5 L506.0 95.2 L507.0 95.7 L508.0 96.0 L509.0 96.9 L510.0 97.5 L511.0 98.0 L512.0 98.5 L513.0 99.0 L514.0 99.4 L515.0 99.9 L516.0 100.2 L517.0 100.6 L518.0 101.1 L519.0 101.6 L520.0 102.2 L521.0 102.5 L522.0 102.9 L523.0 103.3 L524.0 103.5 L525.0 104.0 L526.0 104.4 L527.0 104.7 L528.0 105.0 L529.0 105.4 L530.0 105.6 L531.0 106.1 L532.0 106.2 L533.0 106.5 L534.0 106.8 L535.0 107.3 L536.0 107.6 L537.0 107.8 L538.0 108.1 L539.0 108.1 L540.0 108.2 L541.0 108.6 L542.0 108.8 L543.0 108.9 L544.0 109.3 L545.0 109.4 L546.0 109.5 L547.0 109.7 L548.0 110.2 L549.0 109.9 L550.0 110.2 L551.0 110.4 L552.0 110.5 L553.0 110.7 L554.0 110.7 L555.0 111.1 L556.0 111.1 L557.0 111.2 L558.0 111.1 L559.0 111.3 L560.0 111.5 L561.0 111.6 L562.0 111.5 L563.0 111.6 L564.0 111.8 L565.0 111.9 L566.0 111.7 L567.0 111.9 L568.0 112.0 L569.0 111.9 L570.0 112.0 L571.0 112.0 L572.0 112.2 L573.0 112.0 L574.0 112.1 L575.0 111.9 L576.0 112.1 L577.0 111.9 L578.0 112.0 L579.0 111.9 L580.0 111.9 L581.0 111.8 L582.0 111.8 L583.0 111.9 L584.0 111.7 L585.0 111.6 L586.0 111.9 L587.0 111.6 L588.0 111.8 L589.0 111.6 L590.0 111.5 L591.0 111.6 L592.0 111.6 L593.0 111.3 L594.0 111.1 L595.0 111.3 L596.0 111.3 L597.0 111.1 L598.0 111.1 L599.0 110.9 L600.0 110.9 L601.0 110.7 L602.0 110.6 L603.0 110.6 L604.0 110.5 L605.0 110.4 L606.0 110.5 L607.0 110.1 L608.0 110.0 L609.0 110.0 L610.0 110.2 L611.0 109.9 L612.0 109.6 L613.0 109.8 L614.0 109.7 L615.0 109.6 L616.0 109.3 L617.0 109.4 L618.0 109.1 L619.0 109.0 L620.0 109.2 L621.0 109.1 L622.0 108.7 L623.0 108.9 L624.0 108.4 L625.0 108.5 L626.0 108.3 L627.0 108.2 L628.0 108.1 L629.0 108.3 L630.0 108.0 L631.0 107.9 L632.0 107.8 L633.0 107.8 L634.0 107.8" stroke="#ff1aff" stroke-width="1.8" fill="none" stroke-linejoin="round"/>
<path d="M362.0 227.5 L363.0 227.4 L364.0 227.2 L365.0 227.0 L366.0 226.5 L367.0 226.3 L368.0 226.1 L369.0 225.9 L370.0 225.9 L371.0 225.5 L372.0 225.4 L373.0 225.1 L374.0 224.9 L375.0 224.8 L376.0 224.7 L377.0 224.4 L378.0 224.0 L379.0 223.9 L380.0 223.6 L381.0 223.7 L382.0 223.4 L383.0 223.1 L384.0 222.9 L385.0 222.6 L386.0 222.4 L387.0 222.0 L388.0 221.5 L389.0 221.4 L390.0 220.9 L391.0 220.7 L392.0 220.2 L393.0 219.8 L394.0 219.4 L395.0 219.0 L396.0 218.5 L397.0 217.9 L398.0 217.7 L399.0 217.1 L400.0 216.7 L401.0 216.0 L402.0 215.3 L403.0 214.7 L404.0 213.8 L405.0 213.4 L406.0 212.5 L407.0 211.6 L408.0 210.8 L409.0 210.1 L410.0 209.0 L411.0 208.1 L412.0 207.1 L413.0 205.9 L414.0 204.6 L415.0 203.5 L416.0 202.0 L417.0 200.5 L418.0 199.0 L419.0 197.4 L420.0 195.6 L421.0 194.0 L422.0 192.2 L423.0 190.0 L424.0 188.1 L425.0 186.1 L426.0 183.6 L427.0 181.4 L428.0 179.4 L429.0 177.2 L430.0 174.7 L431.0 172.2 L432.0 169.9 L433.0 167.6 L434.0 165.2 L435.0 162.6 L436.0 159.9 L437.0 157.6 L438.0 154.9 L439.0 152.4 L440.0 149.6 L441.0 147.3 L442.0 144.5 L443.0 141.9 L444.0 139.1 L445.0 136.5 L446.0 133.8 L447.0 131.1 L448.0 128.3 L449.0 125.7 L450.0 122.8 L451.0 120.0 L452.0 117.3 L453.0 114.8 L454.0 111.8 L455.0 109.3 L456.0 106.6 L457.0 104.3 L458.0 101.8 L459.0 99.4 L460.0 96.9 L461.0 94.9 L462.0 92.7 L463.0 90.6 L464.0 88.7 L465.0 87.4 L466.0 85.4 L467.0 83.9 L468.0 82.5 L469.0 81.4 L470.0 80.1 L471.0 79.2 L472.0 78.3 L473.0 77.8 L474.0 76.9 L475.0 76.5 L476.0 76.2 L477.0 76.1 L478.0 75.7 L479.0 75.6 L480.0 75.6 L481.0 75.4 L482.0 75.3 L483.0 75.6 L484.0 75.8 L485.0 75.9 L486.0 75.9 L487.0 76.2 L488.0 76.5 L489.0 76.5 L490.0 76.9 L491.0 77.1 L492.0 77.4 L493.0 77.7 L494.0 78.1 L495.0 78.5 L496.0 78.8 L497.0 79.4 L498.0 79.7 L499.0 80.4 L500.0 80.8 L501.0 81.0 L502.0 81.8 L503.0 82.1 L504.0 82.7 L505.0 83.3 L506.0 83.7 L507.0 84.2 L508.0 84.8 L509.0 85.2 L510.0 86.0 L511.0 86.3 L512.0 87.1 L513.0 87.4 L514.0 87.9 L515.0 88.5 L516.0 88.9 L517.0 89.4 L518.0 90.0 L519.0 90.5 L520.0 91.2 L521.0 91.7 L522.0 91.8 L523.0 92.4 L524.0 92.7 L525.0 93.3 L526.0 93.6 L527.0 94.2 L528.0 94.4 L529.0 94.6 L530.0 94.9 L531.0 95.4 L532.0 96.0 L533.0 96.0 L534.0 96.5 L535.0 96.7 L536.0 97.0 L537.0 97.5 L538.0 97.5 L539.0 98.0 L540.0 98.2 L541.0 98.6 L542.0 98.6 L543.0 99.0 L544.0 99.1 L545.0 99.3 L546.0 99.5 L547.0 99.8 L548.0 100.0 L549.0 99.9 L550.0 100.1 L551.0 100.4 L552.0 100.6 L553.0 100.7 L554.0 100.7 L555.0 101.1 L556.0 100.9 L557.0 101.0 L558.0 101.1 L559.0 101.1 L560.0 101.5 L561.0 101.3 L562.0 101.7 L563.0 101.8 L564.0 101.9 L565.0 101.9 L566.0 101.8 L567.0 101.9 L568.0 102.0 L569.0 102.0 L570.0 101.8 L571.0 102.0 L572.0 101.8 L573.0 101.9 L574.0 102.2 L575.0 101.9 L576.0 101.9 L577.0 102.0 L578.0 101.9 L579.0 101.7 L580.0 101.7 L581.0 101.7 L582.0 101.7 L583.0 101.9 L584.0 101.6 L585.0 101.8 L586.0 101.7 L587.0 101.5 L588.0 101.7 L589.0 101.5 L590.0 101.3 L591.0 101.2 L592.0 101.2 L593.0 101.3 L594.0 101.1 L595.0 100.8 L596.0 100.8 L597.0 100.8 L598.0 100.6 L599.0 100.6 L600.0 100.3 L601.0 100.5 L602.0 100.2 L603.0 100.0 L604.0 100.1 L605.0 99.9 L606.0 100.0 L607.0 99.8 L608.0 99.7 L609.0 99.7 L610.0 99.4 L611.0 99.5 L612.0 99.3 L613.0 99.1 L614.0 99.2 L615.0 98.7 L616.0 99.0 L617.0 98.6 L618.0 98.7 L619.0 98.3 L620.0 98.2 L621.0 98.3 L622.0 98.3 L623.0 98.0 L624.0 97.9 L625.0 97.9 L626.0 97.6 L627.0 97.6 L628.0 97.3 L629.0 97.4 L630.0 97.4 L631.0 97.2 L632.0 97.0 L633.0 96.9 L634.0 97.0" stroke="#1f9a9a" stroke-width="1.8" fill="none" stroke-linejoin="round"/>
<path d="M362.0 217.3 L363.0 217.4 L364.0 217.2 L365.0 217.1 L366.0 216.7 L367.0 216.6 L368.0 216.6 L369.0 216.4 L370.0 216.1 L371.0 216.1 L372.0 215.8 L373.0 215.8 L374.0 215.4 L375.0 215.3 L376.0 215.3 L377.0 214.9 L378.0 214.7 L379.0 214.7 L380.0 214.4 L381.0 214.0 L382.0 213.9 L383.0 213.7 L384.0 213.2 L385.0 213.1 L386.0 212.6 L387.0 212.4 L388.0 211.9 L389.0 211.6 L390.0 211.5 L391.0 210.9 L392.0 210.7 L393.0 210.0 L394.0 209.6 L395.0 209.2 L396.0 208.6 L397.0 207.8 L398.0 207.5 L399.0 206.9 L400.0 206.0 L401.0 205.3 L402.0 204.9 L403.0 204.1 L404.0 203.2 L405.0 202.5 L406.0 201.5 L407.0 200.9 L408.0 199.9 L409.0 198.8 L410.0 198.1 L411.0 196.7 L412.0 195.8 L413.0 194.6 L414.0 193.7 L415.0 192.3 L416.0 191.2 L417.0 189.8 L418.0 188.6 L419.0 187.3 L420.0 185.9 L421.0 184.4 L422.0 183.0 L423.0 181.4 L424.0 179.9 L425.0 178.1 L426.0 176.5 L427.0 174.7 L428.0 173.1 L429.0 171.2 L430.0 168.9 L431.0 166.9 L432.0 164.9 L433.0 162.6 L434.0 160.1 L435.0 158.0 L436.0 155.6 L437.0 152.8 L438.0 150.2 L439.0 147.7 L440.0 145.2 L441.0 142.3 L442.0 139.6 L443.0 136.9 L444.0 134.4 L445.0 131.7 L446.0 129.0 L447.0 126.5 L448.0 123.9 L449.0 121.5 L450.0 119.4 L451.0 117.0 L452.0 114.6 L453.0 112.8 L454.0 110.5 L455.0 108.6 L456.0 106.7 L457.0 105.1 L458.0 103.6 L459.0 102.2 L460.0 101.2 L461.0 99.7 L462.0 98.6 L463.0 97.7 L464.0 96.9 L465.0 95.7 L466.0 95.1 L467.0 94.1 L468.0 93.5 L469.0 92.8 L470.0 92.4 L471.0 91.7 L472.0 91.1 L473.0 90.8 L474.0 90.2 L475.0 89.9 L476.0 89.8 L477.0 89.4 L478.0 89.3 L479.0 88.9 L480.0 89.0 L481.0 88.8 L482.0 88.6 L483.0 88.9 L484.0 88.8 L485.0 88.8 L486.0 88.8 L487.0 88.9 L488.0 89.1 L489.0 89.5 L490.0 89.5 L491.0 89.8 L492.0 90.1 L493.0 90.5 L494.0 90.7 L495.0 91.2 L496.0 91.4 L497.0 91.8 L498.0 92.2 L499.0 92.5 L500.0 93.0 L501.0 93.4 L502.0 94.1 L503.0 94.3 L504.0 95.0 L505.0 95.3 L506.0 96.0 L507.0 96.5 L508.0 96.8 L509.0 97.6 L510.0 98.0 L511.0 98.4 L512.0 98.7 L513.0 99.4 L514.0 99.8 L515.0 100.4 L516.0 101.0 L517.0 101.5 L518.0 101.6 L519.0 102.3 L520.0 102.8 L521.0 103.1 L522.0 103.3 L523.0 104.0 L524.0 104.2 L525.0 104.8 L526.0 105.2 L527.0 105.5 L528.0 105.9 L529.0 105.8 L530.0 106.4 L531.0 106.5 L532.0 106.8 L533.0 107.1 L534.0 107.5 L535.0 107.5 L536.0 107.9 L537.0 108.3 L538.0 108.4 L539.0 108.6 L540.0 108.7 L541.0 109.2 L542.0 109.1 L543.0 109.4 L544.0 109.6 L545.0 109.5 L546.0 110.0 L547.0 109.9 L548.0 110.3 L549.0 110.4 L550.0 110.5 L551.0 110.6 L552.0 110.5 L553.0 110.6 L554.0 110.6 L555.0 110.9 L556.0 110.6 L557.0 110.7 L558.0 111.1 L559.0 111.1 L560.0 111.1 L561.0 111.2 L562.0 111.0 L563.0 111.2 L564.0 111.0 L565.0 111.2 L566.0 110.9 L567.0 111.0 L568.0 111.0 L569.0 111.1 L570.0 110.9 L571.0 111.0 L572.0 111.1 L573.0 110.8 L574.0 110.7 L575.0 110.5 L576.0 110.8 L577.0 110.6 L578.0 110.5 L579.0 110.5 L580.0 110.3 L581.0 110.2 L582.0 110.1 L583.0 110.1 L584.0 110.2 L585.0 109.9 L586.0 109.7 L587.0 109.9 L588.0 109.7 L589.0 109.4 L590.0 109.6 L591.0 109.5 L592.0 109.4 L593.0 109.3 L594.0 109.0 L595.0 108.9 L596.0 109.0 L597.0 108.8 L598.0 108.7 L599.0 108.4 L600.0 108.4 L601.0 108.4 L602.0 108.1 L603.0 108.1 L604.0 107.9 L605.0 107.9 L606.0 107.7 L607.0 107.6 L608.0 107.6 L609.0 107.3 L610.0 107.1 L611.0 107.2 L612.0 106.9 L613.0 107.1 L614.0 106.8 L615.0 106.9 L616.0 106.7 L617.0 106.4 L618.0 106.5 L619.0 106.4 L620.0 106.3 L621.0 106.2 L622.0 106.0 L623.0 106.2 L624.0 105.8 L625.0 106.0 L626.0 105.6 L627.0 105.7 L628.0 105.5 L629.0 105.4 L630.0 105.6 L631.0 105.6 L632.0 105.4 L633.0 105.4 L634.0 105.4" stroke="#111" stroke-width="1.8" fill="none" stroke-linejoin="round"/>
<path d="M362.0 220.7 L363.0 220.1 L364.0 220.1 L365.0 219.6 L366.0 219.7 L367.0 219.1 L368.0 219.3 L369.0 219.0 L370.0 218.8 L371.0 218.7 L372.0 218.2 L373.0 218.0 L374.0 218.0 L375.0 217.6 L376.0 217.4 L377.0 217.1 L378.0 217.2 L379.0 216.9 L380.0 216.7 L381.0 216.2 L382.0 216.2 L383.0 215.8 L384.0 215.4 L385.0 215.2 L386.0 214.9 L387.0 214.4 L388.0 214.2 L389.0 213.8 L390.0 213.5 L391.0 213.2 L392.0 212.7 L393.0 212.1 L394.0 211.8 L395.0 211.4 L396.0 210.6 L397.0 210.2 L398.0 209.3 L399.0 208.7 L400.0 208.1 L401.0 207.7 L402.0 206.8 L403.0 206.1 L404.0 205.1 L405.0 204.4 L406.0 203.7 L407.0 202.4 L408.0 201.5 L409.0 200.4 L410.0 199.6 L411.0 198.6 L412.0 197.4 L413.0 196.1 L414.0 194.9 L415.0 193.5 L416.0 192.5 L417.0 190.8 L418.0 189.3 L419.0 187.9 L420.0 186.5 L421.0 184.7 L422.0 183.3 L423.0 181.3 L424.0 179.6 L425.0 177.6 L426.0 176.0 L427.0 173.9 L428.0 171.8 L429.0 169.5 L430.0 167.5 L431.0 165.2 L432.0 163.0 L433.0 160.7 L434.0 158.1 L435.0 155.5 L436.0 152.8 L437.0 150.5 L438.0 147.9 L439.0 144.9 L440.0 142.4 L441.0 139.6 L442.0 137.1 L443.0 134.0 L444.0 131.2 L445.0 128.8 L446.0 126.0 L447.0 123.2 L448.0 120.6 L449.0 117.9 L450.0 115.3 L451.0 112.5 L452.0 109.9 L453.0 107.4 L454.0 105.1 L455.0 102.8 L456.0 100.4 L457.0 98.2 L458.0 96.2 L459.0 94.1 L460.0 92.1 L461.0 90.2 L462.0 88.6 L463.0 86.9 L464.0 85.5 L465.0 84.0 L466.0 82.4 L467.0 81.4 L468.0 80.2 L469.0 79.2 L470.0 78.3 L471.0 77.3 L472.0 76.6 L473.0 76.3 L474.0 75.4 L475.0 75.1 L476.0 74.6 L477.0 74.1 L478.0 73.7 L479.0 73.6 L480.0 73.4 L481.0 73.1 L482.0 72.9 L483.0 72.9 L484.0 73.1 L485.0 73.1 L486.0 72.9 L487.0 73.3 L488.0 73.4 L489.0 73.5 L490.0 73.9 L491.0 73.9 L492.0 74.1 L493.0 74.5 L494.0 75.0 L495.0 75.3 L496.0 75.7 L497.0 76.3 L498.0 76.5 L499.0 77.2 L500.0 77.3 L501.0 78.1 L502.0 78.4 L503.0 79.1 L504.0 79.8 L505.0 80.2 L506.0 80.8 L507.0 81.3 L508.0 82.0 L509.0 82.4 L510.0 82.9 L511.0 83.6 L512.0 84.2 L513.0 84.6 L514.0 85.4 L515.0 85.9 L516.0 86.3 L517.0 87.1 L518.0 87.7 L519.0 88.0 L520.0 88.8 L521.0 89.3 L522.0 89.7 L523.0 90.0 L524.0 90.4 L525.0 90.8 L526.0 91.3 L527.0 92.0 L528.0 92.0 L529.0 92.7 L530.0 93.0 L531.0 93.4 L532.0 93.5 L533.0 94.0 L534.0 94.2 L535.0 94.7 L536.0 95.0 L537.0 95.3 L538.0 95.5 L539.0 95.9 L540.0 95.8 L541.0 96.1 L542.0 96.6 L543.0 96.4 L544.0 96.8 L545.0 97.0 L546.0 97.3 L547.0 97.3 L548.0 97.6 L549.0 97.7 L550.0 97.8 L551.0 97.9 L552.0 98.1 L553.0 98.2 L554.0 98.3 L555.0 98.3 L556.0 98.6 L557.0 98.7 L558.0 98.5 L559.0 98.8 L560.0 98.5 L561.0 98.7 L562.0 99.0 L563.0 98.7 L564.0 98.9 L565.0 99.1 L566.0 98.9 L567.0 98.9 L568.0 98.7 L569.0 98.8 L570.0 98.8 L571.0 98.9 L572.0 98.7 L573.0 98.9 L574.0 98.7 L575.0 98.7 L576.0 98.7 L577.0 98.4 L578.0 98.7 L579.0 98.4 L580.0 98.3 L581.0 98.5 L582.0 98.2 L583.0 98.1 L584.0 97.9 L585.0 97.8 L586.0 97.9 L587.0 97.7 L588.0 97.7 L589.0 97.6 L590.0 97.5 L591.0 97.3 L592.0 97.4 L593.0 97.1 L594.0 96.9 L595.0 97.0 L596.0 96.9 L597.0 96.5 L598.0 96.7 L599.0 96.5 L600.0 96.2 L601.0 96.2 L602.0 96.2 L603.0 95.8 L604.0 95.8 L605.0 95.6 L606.0 95.4 L607.0 95.6 L608.0 95.5 L609.0 95.2 L610.0 95.2 L611.0 94.9 L612.0 94.8 L613.0 94.7 L614.0 94.7 L615.0 94.6 L616.0 94.4 L617.0 94.3 L618.0 94.1 L619.0 94.2 L620.0 94.1 L621.0 94.0 L622.0 93.7 L623.0 93.6 L624.0 93.8 L625.0 93.4 L626.0 93.5 L627.0 93.2 L628.0 93.1 L629.0 93.1 L630.0 93.2 L631.0 93.0 L632.0 93.1 L633.0 92.8 L634.0 92.9" stroke="#1a1aff" stroke-width="1.8" fill="none" stroke-linejoin="round"/>
</g>
<line x1="362.00" y1="48.50" x2="362.00" y2="248.70" stroke="#7a7a7a" stroke-width="1.9"/><line x1="633.50" y1="48.50" x2="633.50" y2="248.70" stroke="#7a7a7a" stroke-width="1.9"/><line x1="361.10" y1="48.50" x2="634.40" y2="48.50" stroke="#454545" stroke-width="1.6"/><line x1="361.10" y1="248.70" x2="634.40" y2="248.70" stroke="#454545" stroke-width="1.6"/>
<line x1="362.00" y1="248.70" x2="362.00" y2="244.50" stroke="#6e6e6e" stroke-width="1.4"/>
<text transform="translate(362.0,263.2) scale(1,1.06)" font-size="14.0" text-anchor="middle" fill="#1e1e1e">2.25</text>
<line x1="389.15" y1="248.70" x2="389.15" y2="246.20" stroke="#6e6e6e" stroke-width="1.4"/>
<line x1="416.30" y1="248.70" x2="416.30" y2="244.50" stroke="#6e6e6e" stroke-width="1.4"/>
<text transform="translate(416.3,263.2) scale(1,1.06)" font-size="14.0" text-anchor="middle" fill="#1e1e1e">2.30</text>
<line x1="443.45" y1="248.70" x2="443.45" y2="246.20" stroke="#6e6e6e" stroke-width="1.4"/>
<line x1="470.60" y1="248.70" x2="470.60" y2="244.50" stroke="#6e6e6e" stroke-width="1.4"/>
<text transform="translate(470.6,263.2) scale(1,1.06)" font-size="14.0" text-anchor="middle" fill="#1e1e1e">2.35</text>
<line x1="497.75" y1="248.70" x2="497.75" y2="246.20" stroke="#6e6e6e" stroke-width="1.4"/>
<line x1="524.90" y1="248.70" x2="524.90" y2="244.50" stroke="#6e6e6e" stroke-width="1.4"/>
<text transform="translate(524.9,263.2) scale(1,1.06)" font-size="14.0" text-anchor="middle" fill="#1e1e1e">2.40</text>
<line x1="552.05" y1="248.70" x2="552.05" y2="246.20" stroke="#6e6e6e" stroke-width="1.4"/>
<line x1="579.20" y1="248.70" x2="579.20" y2="244.50" stroke="#6e6e6e" stroke-width="1.4"/>
<text transform="translate(579.2,263.2) scale(1,1.06)" font-size="14.0" text-anchor="middle" fill="#1e1e1e">2.45</text>
<line x1="606.35" y1="248.70" x2="606.35" y2="246.20" stroke="#6e6e6e" stroke-width="1.4"/>
<line x1="633.50" y1="248.70" x2="633.50" y2="244.50" stroke="#6e6e6e" stroke-width="1.4"/>
<text transform="translate(633.5,263.2) scale(1,1.06)" font-size="14.0" text-anchor="middle" fill="#1e1e1e">2.50</text>
<text x="495" y="289" font-size="16.7" text-anchor="middle" fill="#1e1e1e">Energy (eV)</text>
<text transform="translate(339.30,156.70) rotate(-90) scale(1.075,1)" font-size="15.5" text-anchor="middle" fill="#1e1e1e"><tspan font-family="Liberation Serif">(&#945;h&#965;)</tspan><tspan font-size="6.5" dy="-9" fill="#777" style="stroke:none">2</tspan><tspan dy="9" font-weight="bold"> (a.u.)</tspan></text>
<text transform="translate(362.2,36.5) scale(1.05,1)" font-family="Liberation Serif" font-weight="bold" font-size="25.5" fill="#111" style="stroke:none">(b)</text>
<line x1="495.3" y1="130.70" x2="532.8" y2="130.70" stroke="#111" stroke-width="2.4"/>
<text x="537.3" y="135.60" font-size="16.3" fill="#111">Bare</text>
<line x1="495.3" y1="151.04" x2="532.8" y2="151.04" stroke="#ff3b3b" stroke-width="1.4"/>
<text x="537.3" y="155.94" font-size="16.3" fill="#111">Anti-solvent</text>
<line x1="495.3" y1="171.38" x2="532.8" y2="171.38" stroke="#1a1aff" stroke-width="1.4"/>
<text x="537.3" y="176.28" font-size="16.3" fill="#111">0.05M MACl</text>
<line x1="495.3" y1="191.72" x2="532.8" y2="191.72" stroke="#1f9a9a" stroke-width="1.4"/>
<text x="537.3" y="196.62" font-size="16.3" fill="#111">0.10M MACl</text>
<line x1="495.3" y1="212.06" x2="532.8" y2="212.06" stroke="#ff1aff" stroke-width="1.4"/>
<text x="537.3" y="216.96" font-size="16.3" fill="#111">0.15M MACl</text>
<line x1="495.3" y1="232.40" x2="532.8" y2="232.40" stroke="#9a9a38" stroke-width="1.4"/>
<text x="537.3" y="237.30" font-size="16.3" fill="#111">0.20M MACl</text>
<line x1="689.90" y1="48.40" x2="689.90" y2="248.00" stroke="#7a7a7a" stroke-width="1.9"/><line x1="1166.30" y1="48.40" x2="1166.30" y2="248.00" stroke="#7a7a7a" stroke-width="1.9"/><line x1="689.00" y1="48.40" x2="1167.20" y2="48.40" stroke="#454545" stroke-width="1.6"/><line x1="689.00" y1="248.00" x2="1167.20" y2="248.00" stroke="#454545" stroke-width="1.6"/>
<line x1="689.90" y1="248.00" x2="693.70" y2="248.00" stroke="#6e6e6e" stroke-width="1.4"/>
<text transform="translate(685.3,251.9) scale(1,1.07)" font-size="13.7" text-anchor="end" fill="#1e1e1e">0.08</text>
<line x1="689.90" y1="181.47" x2="693.70" y2="181.47" stroke="#6e6e6e" stroke-width="1.4"/>
<text transform="translate(685.3,185.4) scale(1,1.07)" font-size="13.7" text-anchor="end" fill="#1e1e1e">0.10</text>
<line x1="689.90" y1="114.93" x2="693.70" y2="114.93" stroke="#6e6e6e" stroke-width="1.4"/>
<text transform="translate(685.3,118.8) scale(1,1.07)" font-size="13.7" text-anchor="end" fill="#1e1e1e">0.12</text>
<line x1="689.90" y1="48.40" x2="693.70" y2="48.40" stroke="#6e6e6e" stroke-width="1.4"/>
<text transform="translate(685.3,52.3) scale(1,1.07)" font-size="13.7" text-anchor="end" fill="#1e1e1e">0.14</text>
<line x1="729.40" y1="248.00" x2="729.40" y2="244.00" stroke="#6e6e6e" stroke-width="1.4"/>
<line x1="808.60" y1="248.00" x2="808.60" y2="244.00" stroke="#6e6e6e" stroke-width="1.4"/>
<line x1="888.00" y1="248.00" x2="888.00" y2="244.00" stroke="#6e6e6e" stroke-width="1.4"/>
<line x1="967.60" y1="248.00" x2="967.60" y2="244.00" stroke="#6e6e6e" stroke-width="1.4"/>
<line x1="1047.60" y1="248.00" x2="1047.60" y2="244.00" stroke="#6e6e6e" stroke-width="1.4"/>
<line x1="1127.20" y1="248.00" x2="1127.20" y2="244.00" stroke="#6e6e6e" stroke-width="1.4"/>
<text transform="translate(729.4,262.9) scale(1,1.07)" font-size="13.6" text-anchor="middle" fill="#1e1e1e">Bare</text>
<text transform="translate(808.6,262.9) scale(1,1.07)" font-size="13.6" text-anchor="middle" fill="#1e1e1e">Anti-solvent</text>
<text transform="translate(888.0,262.9) scale(1,1.07)" font-size="13.6" text-anchor="middle" fill="#1e1e1e">MACl 0.05</text>
<text transform="translate(967.6,262.9) scale(1,1.07)" font-size="13.6" text-anchor="middle" fill="#1e1e1e">MACl 0.10</text>
<text transform="translate(1047.6,262.9) scale(1,1.07)" font-size="13.6" text-anchor="middle" fill="#1e1e1e">MACl 0.15</text>
<text transform="translate(1127.2,262.9) scale(1,1.07)" font-size="13.6" text-anchor="middle" fill="#1e1e1e">MACl 0.20</text>
<line x1="1166.30" y1="248.00" x2="1162.50" y2="248.00" stroke="#6e6e6e" stroke-width="1.4"/>
<text transform="translate(1171.6,252.8) scale(1,1.07)" font-size="13.5" fill="#1e1e1e">1.0x10<tspan font-size="8" dy="-7.4" dx="0.3" style="stroke:none">2</tspan></text>
<line x1="1166.30" y1="198.10" x2="1162.50" y2="198.10" stroke="#6e6e6e" stroke-width="1.4"/>
<text transform="translate(1171.6,202.9) scale(1,1.07)" font-size="13.5" fill="#1e1e1e">1.2x10<tspan font-size="8" dy="-7.4" dx="0.3" style="stroke:none">2</tspan></text>
<line x1="1166.30" y1="148.20" x2="1162.50" y2="148.20" stroke="#6e6e6e" stroke-width="1.4"/>
<text transform="translate(1171.6,153.0) scale(1,1.07)" font-size="13.5" fill="#1e1e1e">1.4x10<tspan font-size="8" dy="-7.4" dx="0.3" style="stroke:none">2</tspan></text>
<line x1="1166.30" y1="98.30" x2="1162.50" y2="98.30" stroke="#6e6e6e" stroke-width="1.4"/>
<text transform="translate(1171.6,103.1) scale(1,1.07)" font-size="13.5" fill="#1e1e1e">1.6x10<tspan font-size="8" dy="-7.4" dx="0.3" style="stroke:none">2</tspan></text>
<line x1="1166.30" y1="48.40" x2="1162.50" y2="48.40" stroke="#6e6e6e" stroke-width="1.4"/>
<text transform="translate(1171.6,53.2) scale(1,1.07)" font-size="13.5" fill="#1e1e1e">1.8x10<tspan font-size="8" dy="-7.4" dx="0.3" style="stroke:none">2</tspan></text>
<text transform="translate(1235.60,159.60) rotate(-90) scale(1.000,1)" font-size="14" text-anchor="middle" fill="#1e1e1e">Mobility (cm<tspan font-size="9" dy="-6">2</tspan><tspan dy="6">/V.s)</tspan></text>
<line x1="1248.3" y1="47.9" x2="1248.3" y2="248.5" stroke="#7a7a7a" stroke-width="1.9"/>
<line x1="1248.30" y1="248.00" x2="1244.30" y2="248.00" stroke="#6e6e6e" stroke-width="1.4"/>
<text transform="translate(1253,253.0) scale(1,1.07)" font-size="13.7" fill="#1e1e1e">1.0x10<tspan font-size="7.8" dy="-7.2" dx="0.6" style="stroke:none">13</tspan></text>
<line x1="1248.30" y1="148.20" x2="1244.30" y2="148.20" stroke="#6e6e6e" stroke-width="1.4"/>
<text transform="translate(1253,153.2) scale(1,1.07)" font-size="13.7" fill="#1e1e1e">1.5x10<tspan font-size="7.8" dy="-7.2" dx="0.6" style="stroke:none">13</tspan></text>
<line x1="1248.30" y1="48.40" x2="1244.30" y2="48.40" stroke="#6e6e6e" stroke-width="1.4"/>
<text transform="translate(1253,53.4) scale(1,1.07)" font-size="13.7" fill="#1e1e1e">2.0x10<tspan font-size="7.8" dy="-7.2" dx="0.6" style="stroke:none">13</tspan></text>
<text transform="translate(1316.50,158.05) rotate(-90) scale(0.963,1)" font-size="14.3" text-anchor="middle" fill="#1e1e1e">Carrier concentration (cm<tspan font-size="9" dy="-6">-3</tspan><tspan dy="6">)</tspan></text>
<text transform="translate(653.00,103.90) rotate(-90) scale(0.987,1)" font-size="14" text-anchor="end" fill="#1e1e1e">Resistivity (<tspan font-family="Liberation Serif">&#937;</tspan>.cm)</text>
<text transform="translate(686.5,34.6) scale(1.05,1)" font-family="Liberation Serif" font-weight="bold" font-size="25.5" fill="#111" style="stroke:none">(c)</text>
<polyline points="729.4,200.3 808.6,149.3 888.0,163.7 967.6,206.0 1047.6,79.3 1127.2,74.8" fill="none" stroke="#111" stroke-width="1.5"/><rect x="726.6" y="197.6" width="5.5" height="5.5" fill="#000"/><rect x="805.9" y="146.6" width="5.5" height="5.5" fill="#000"/><rect x="885.2" y="160.9" width="5.5" height="5.5" fill="#000"/><rect x="964.9" y="203.2" width="5.5" height="5.5" fill="#000"/><rect x="1044.8" y="76.5" width="5.5" height="5.5" fill="#000"/><rect x="1124.5" y="72.0" width="5.5" height="5.5" fill="#000"/>
<polyline points="729.4,212.7 808.6,161.3 888.0,143.2 967.6,100.5 1047.6,189.8 1127.2,195.5" fill="none" stroke="#ff1010" stroke-width="1.5"/><circle cx="729.4" cy="212.7" r="3.4" fill="#ff0000"/><circle cx="808.6" cy="161.3" r="3.4" fill="#ff0000"/><circle cx="888.0" cy="143.2" r="3.4" fill="#ff0000"/><circle cx="967.6" cy="100.5" r="3.4" fill="#ff0000"/><circle cx="1047.6" cy="189.8" r="3.4" fill="#ff0000"/><circle cx="1127.2" cy="195.5" r="3.4" fill="#ff0000"/>
<polyline points="729.4,97.5 808.6,192.3 888.0,195.3 967.6,191.4 1047.6,214.3 1127.2,212.0" fill="none" stroke="#1010ff" stroke-width="1.9"/><path d="M729.4 93.9L733.4 100.3L725.4 100.3Z" fill="#0000ff"/><path d="M808.6 188.7L812.6 195.1L804.6 195.1Z" fill="#0000ff"/><path d="M888.0 191.7L892.0 198.1L884.0 198.1Z" fill="#0000ff"/><path d="M967.6 187.8L971.6 194.2L963.6 194.2Z" fill="#0000ff"/><path d="M1047.6 210.7L1051.6 217.1L1043.6 217.1Z" fill="#0000ff"/><path d="M1127.2 208.4L1131.2 214.8L1123.2 214.8Z" fill="#0000ff"/>
<line x1="701" y1="57.5" x2="713.4" y2="57.5" stroke="#222" stroke-width="1.6"/><line x1="726" y1="57.5" x2="738.3" y2="57.5" stroke="#222" stroke-width="1.6"/><rect x="716.6" y="54.8" width="5.5" height="5.5" fill="#000"/>
<text x="742.6" y="62.4" font-size="16.5" fill="#111">Resistivity</text>
<line x1="843.3" y1="57.5" x2="855.5" y2="57.5" stroke="#ff2020" stroke-width="1.6"/><line x1="868.5" y1="57.5" x2="880.8" y2="57.5" stroke="#ff2020" stroke-width="1.6"/><circle cx="861.8" cy="56.8" r="3.4" fill="#ff0000"/>
<text x="884.4" y="62.4" font-size="16.5" fill="#111">Mobility</text>
<line x1="967.9" y1="57.5" x2="979.2" y2="57.5" stroke="#2020ff" stroke-width="1.6"/><line x1="993.8" y1="57.5" x2="1005.1" y2="57.5" stroke="#2020ff" stroke-width="1.6"/><path d="M986.7 52.2L990.9 59.8L982.5 59.8Z" fill="#0000ff"/>
<text x="1009.8" y="62.4" font-size="16.5" fill="#111">Carrier concentration</text>
</svg>
</body></html>
